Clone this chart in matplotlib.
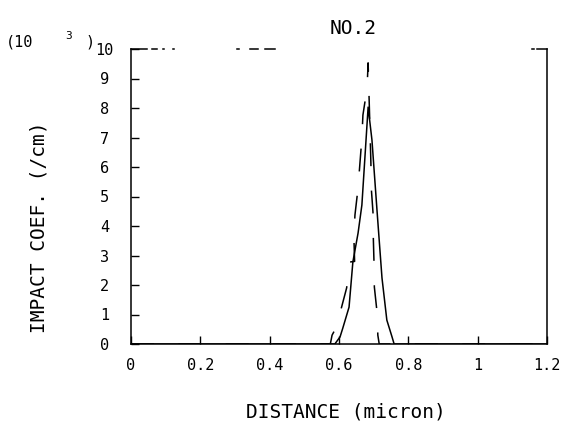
import matplotlib
matplotlib.use("Agg")
import matplotlib.pyplot as plt

plt.rcParams['font.family'] = ['DejaVu Sans Mono', 'DejaVu Sans']

# Impact coefficient (x10^3 /cm) vs distance (micron)
solid_x = [0.0, 0.55, 0.588, 0.603, 0.611, 0.629, 0.640, 0.655, 0.666, 0.684,
           0.695, 0.710, 0.724, 0.738, 0.753, 0.759, 0.80, 1.2]
solid_y = [0.0, 0.0, 0.0, 0.24, 0.54, 1.25, 2.78, 3.76, 4.71, 8.03,
           6.92, 4.47, 2.24, 0.81, 0.24, 0.0, 0.0, 0.0]

dash_x = [0.0, 0.55, 0.575, 0.580, 0.591, 0.603, 0.622, 0.632, 0.645, 0.643,
          0.646, 0.655, 0.660, 0.666, 0.669, 0.681, 0.684, 0.692, 0.693,
          0.698, 0.699, 0.701, 0.702, 0.710, 0.712, 0.716, 0.80, 1.2]
dash_y = [0.0, 0.0, 0.0, 0.3, 0.54, 1.05, 1.9, 2.78, 2.8, 3.6,
          4.37, 5.29, 6.07, 6.98, 7.76, 8.68, 9.53, 6.14, 5.3,
          4.47, 3.6, 2.75, 1.93, 1.05, 0.3, 0.0, 0.0, 0.0]

x_ticks = [0, 0.2, 0.4, 0.6, 0.8, 1.0, 1.2]
x_labels = ["0", "0.2", "0.4", "0.6", "0.8", "1", "1.2"]
y_ticks = list(range(0, 11))

# broken top frame of the plotter output (axes fraction)
top_segments = [(0.0, 0.038), (0.05, 0.063), (0.077, 0.08), (0.10, 0.103),
                (0.255, 0.26), (0.286, 0.305), (0.322, 0.346),
                (0.964, 0.969), (0.976, 1.0)]

W, H = 566, 426
fig = plt.figure(figsize=(W / 100, H / 100), dpi=100)
ax = fig.add_axes([131 / W, 1 - 344 / H, 416 / W, (344 - 49) / H])

ax.plot(solid_x, solid_y, color='black', lw=1.1)
ax.plot(dash_x, dash_y, color='black', lw=1.1, linestyle=(0, (15, 16)))

ax.set_xlim(0, 1.2)
ax.set_ylim(0, 10)
ax.set_xticks(x_ticks)
ax.set_xticklabels(x_labels)
ax.set_yticks(y_ticks)
ax.tick_params(direction='in', length=6, width=1, labelsize=11)
ax.tick_params(axis='x', pad=10)
ax.tick_params(axis='y', pad=19)
for lab in ax.get_yticklabels():
    lab.set_ha('center')

for side in ['left', 'right', 'bottom']:
    ax.spines[side].set_linewidth(1.1)
ax.spines['top'].set_visible(False)
for a, b in top_segments:
    ax.plot([a, b], [1, 1], transform=ax.transAxes, color='black', lw=1.1,
            clip_on=False)

ax.set_xlabel("DISTANCE (micron)", fontsize=14)
ax.xaxis.set_label_coords(0.517, -0.197)
ax.set_ylabel("IMPACT COEF. (/cm)", fontsize=14)
ax.yaxis.set_label_coords(-0.199, 0.397)

fig.text(353 / W, 1 - 28 / H, "NO.2", ha='center', va='center', fontsize=14)
fig.text(6 / W, 1 - 42 / H, "(10", ha='left', va='center', fontsize=11)
fig.text(65 / W, 1 - 36 / H, "3", ha='left', va='center', fontsize=8)
fig.text(85 / W, 1 - 42 / H, ")", ha='left', va='center', fontsize=11)

fig.savefig("out.png", dpi=100)
